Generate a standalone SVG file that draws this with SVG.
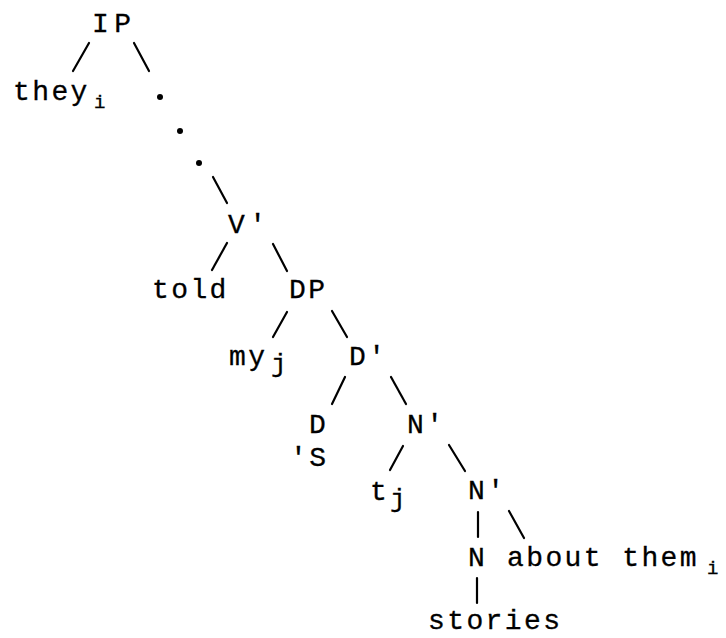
<svg xmlns="http://www.w3.org/2000/svg" width="726" height="638" viewBox="0 0 726 638">
<style>
text{font-family:"Liberation Mono","Courier New",monospace;font-size:28px;letter-spacing:2.4px;fill:#000;stroke:#000;stroke-width:0.3}
.sub{font-size:19px;letter-spacing:0}
.subj{font-size:26px;letter-spacing:0}
.edges line{stroke:#000;stroke-width:2.2;stroke-linecap:round}
</style>
<rect width="726" height="638" fill="#fff"/>
<g class="edges" id="connectors">
<line x1="89" y1="43" x2="73" y2="71"/>
<line x1="134" y1="43" x2="149" y2="71"/>
<line x1="213" y1="177" x2="227" y2="203"/>
<line x1="227" y1="243" x2="212" y2="270"/>
<line x1="273" y1="244" x2="287" y2="271"/>
<line x1="287" y1="312" x2="273" y2="337"/>
<line x1="332" y1="311" x2="347" y2="337"/>
<line x1="345" y1="377" x2="332" y2="404"/>
<line x1="391" y1="377" x2="406" y2="404"/>
<line x1="403" y1="446" x2="390" y2="470"/>
<line x1="449" y1="445" x2="465" y2="471"/>
<line x1="478" y1="512" x2="478" y2="537"/>
<line x1="509" y1="511" x2="524" y2="538"/>
<line x1="477" y1="578" x2="477" y2="603"/>
</g>
<g id="dots">
<circle cx="160" cy="97" r="3"/>
<circle cx="180" cy="131" r="3"/>
<circle cx="199" cy="163" r="3"/>
</g>
<g id="IP"><text x="92" y="32" style="letter-spacing:5.4px">IP</text></g>
<g id="they"><text x="13" y="100">they</text><text class="sub" x="94" y="108">i</text></g>
<g id="Vbar"><text x="228" y="233" style="letter-spacing:4.4px">V'</text></g>
<g id="told"><text x="152" y="298">told</text></g>
<g id="DP"><text x="289" y="298">DP</text></g>
<g id="my"><text x="229" y="365">my</text><text class="subj" x="271" y="372">j</text></g>
<g id="Dbar"><text x="349" y="365">D'</text></g>
<g id="D"><text x="309" y="433">D</text><text x="290" y="466">'S</text></g>
<g id="Nbar1"><text x="407" y="433">N'</text></g>
<g id="t"><text x="370" y="500">t</text><text class="subj" x="390" y="507">j</text></g>
<g id="Nbar2"><text x="468" y="499">N'</text></g>
<g id="N"><text x="468" y="566">N</text></g>
<g id="about"><text x="507" y="566">about them</text><text class="sub" x="707" y="574">i</text></g>
<g id="stories"><text x="428" y="629">stories</text></g>
</svg>
